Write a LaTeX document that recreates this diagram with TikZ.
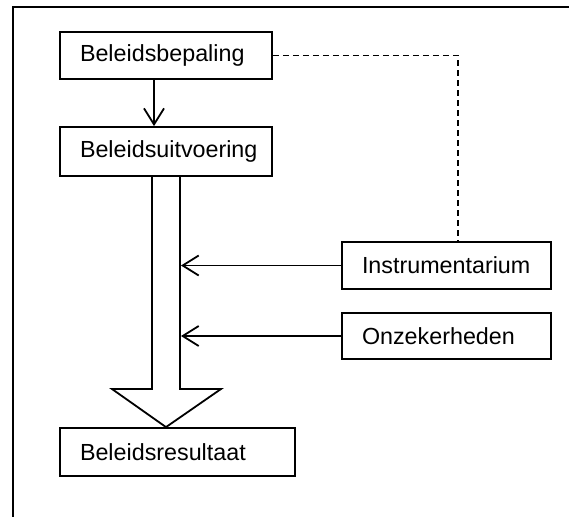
\documentclass[tikz,border=0pt]{standalone}
\usepackage{fontspec}
\setmainfont{Liberation Sans}
\usetikzlibrary{arrows.meta,calc}
\begin{document}
\begin{tikzpicture}[x=1pt,y=-1pt,
  box/.style={draw,line width=1.8pt,rectangle,inner xsep=20pt,inner ysep=0pt,
    align=left,font=\fontsize{23.3}{27}\selectfont},
  conn/.style={line width=1.8pt,-{Straight Barb[length=16pt,width=20pt,line width=1.8pt]}},
  dashline/.style={line width=1.8pt,dash pattern=on 6pt off 4pt},
  frameline/.style={line width=2.2pt}]
\useasboundingbox (0,0) rectangle (569,516);
% frame (open at right and bottom)
\draw[frameline] (13,520) -- (13,7) -- (575,7);
% boxes
\node[box,text width=172pt,minimum height=47pt] (A) at (166,55.5) {Beleidsbepaling};
\node[box,text width=172pt,minimum height=49pt] (B) at (166,151.5) {Beleidsuitvoering};
\node[box,text width=195pt,minimum height=48pt] (C) at (177.5,452) {Beleidsresultaat};
\node[box,text width=169pt,minimum height=47pt] (D) at (446.5,265.5) {Instrumentarium};
\node[box,text width=169pt,minimum height=46pt] (E) at (446.5,336) {Onzekerheden};
% arrow A -> B
\draw[conn] (A.south -| 154,0) -- (B.north -| 154,0);
% big arrow
\coordinate (tip) at ($(C.north)+(-11.5,0)$);
\draw[line width=1.8pt,line join=miter]
  (B.south -| 152,0) -- (152,389) -- (112,389) -- (tip) -- (221,389) -- (180,389) -- (B.south -| 180,0);
% side arrows
\coordinate (sd) at (181,0);
\draw[conn] (D.west) -- (D.west -| sd);
\draw[conn] (E.west) -- (E.west -| sd);
% dashed link
\coordinate (dx) at ($(D.north)+(11.5,0)$);
\draw[dashline] (A.east) -| (dx);
\end{tikzpicture}
\end{document}
